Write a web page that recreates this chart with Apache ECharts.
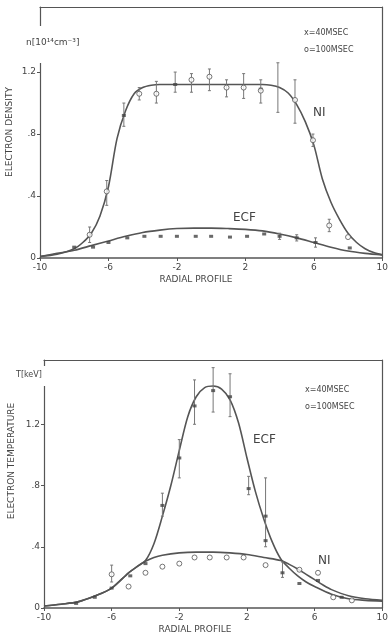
<!DOCTYPE html>
<html><head><meta charset="utf-8">
<script src="https://cdn.jsdelivr.net/npm/echarts@6/dist/echarts.min.js"></script>
<style>html,body{margin:0;padding:0;background:#fff}#c{width:391px;height:638px}</style>
</head><body><div id="c"></div>
<script>
// ---- tick values / labels ----
const xTickValues = [-10, -6, -2, 2, 6, 10];
const xTickLabels = ['-10', '-6', '-2', '2', '6', '10'];
const yTickValues = [0, 0.4, 0.8, 1.2];
const yTickLabels = ['0', '.4', '.8', '1.2'];

// ---- top panel: electron density ----
const densNIcurve = [[-10,0.01],[-9,0.025],[-8,0.06],[-7.5,0.10],[-7,0.16],[-6.5,0.27],[-6,0.46],[-5.5,0.77],[-5,0.95],[-4.5,1.06],[-4,1.10],[-3.5,1.115],[-3,1.12],[-2,1.12],[0,1.12],[2,1.12],[3,1.12],[3.5,1.115],[4,1.10],[4.5,1.065],[5,0.99],[5.5,0.88],[6,0.73],[6.5,0.51],[7,0.36],[7.5,0.25],[8,0.16],[8.5,0.10],[9,0.06],[9.5,0.035],[10,0.02]];
const densECFcurve = [[-10,0.01],[-9,0.03],[-8,0.05],[-7,0.08],[-6,0.11],[-5,0.14],[-4,0.165],[-3,0.18],[-2,0.19],[-1,0.193],[0,0.193],[1,0.19],[2,0.185],[3,0.175],[4,0.155],[5,0.13],[6,0.10],[7,0.07],[8,0.045],[9,0.03],[10,0.02]];
const dens100ms = [[-7.1,0.15],[-6.1,0.43],[-4.2,1.06],[-3.2,1.06],[-1.15,1.15],[-0.1,1.17],[0.9,1.10],[1.9,1.10],[2.9,1.08],[4.9,1.02],[5.95,0.76],[6.9,0.21],[8.0,0.135]];
const dens40ms = [[-8,0.07],[-6.9,0.07],[-6,0.10],[-5.1,0.92],[-4.9,0.13],[-3.9,0.14],[-2.95,0.14],[-2.1,1.12],[-2,0.14],[-0.9,0.14],[0,0.14],[1.1,0.135],[2.1,0.14],[2.9,1.09],[3.1,0.155],[4.0,0.14],[5.0,0.13],[6.1,0.10],[8.1,0.065]];
const densErr = [[-7.1,0.10,0.20],[-6.1,0.34,0.50],[-5.1,0.85,1.0],[-4.2,1.02,1.10],[-3.2,1.0,1.14],[-2.1,1.07,1.2],[-1.15,1.07,1.19],[-0.1,1.08,1.22],[0.9,1.04,1.15],[1.9,1.03,1.19],[2.9,1.0,1.15],[3.9,0.94,1.26],[4.9,0.87,1.15],[5.95,0.72,0.80],[6.9,0.17,0.25],[4.0,0.12,0.16],[5.0,0.11,0.15],[6.1,0.07,0.13]];

// ---- bottom panel: electron temperature ----
const tempECFcurve = [[-10,0.013],[-9,0.025],[-8,0.04],[-7,0.078],[-6,0.13],[-5,0.23],[-4.5,0.27],[-4,0.31],[-3.5,0.42],[-3,0.6],[-2.5,0.8],[-2,1.03],[-1.5,1.25],[-1,1.38],[-0.5,1.44],[0,1.45],[0.5,1.43],[1,1.36],[1.5,1.21],[2,0.98],[2.5,0.76],[3,0.58],[3.5,0.43],[4,0.32],[4.5,0.26],[5,0.21],[5.5,0.17],[6,0.14],[7,0.09],[8,0.06],[9,0.05],[10,0.045]];
const tempNIcurve = [[-10,0.013],[-9,0.025],[-8,0.04],[-7,0.078],[-6,0.13],[-5,0.23],[-4.5,0.27],[-4,0.305],[-3.5,0.33],[-3,0.345],[-2,0.36],[-1,0.365],[0,0.365],[1,0.36],[2,0.35],[3,0.33],[4,0.31],[4.5,0.285],[5,0.255],[5.5,0.22],[6,0.185],[6.5,0.15],[7,0.12],[8,0.08],[9,0.06],[10,0.05]];
const temp40ms = [[-8.1,0.03],[-7,0.07],[-6,0.13],[-4.9,0.21],[-4,0.29],[-3,0.67],[-2,0.98],[-1.1,1.32],[0,1.42],[1,1.38],[2.1,0.78],[3.1,0.6],[3.1,0.44],[4.1,0.23],[5.1,0.16],[6.2,0.18],[7.6,0.07]];
const temp100ms = [[-6,0.22],[-5,0.14],[-4,0.23],[-3,0.27],[-2,0.29],[-1.1,0.33],[-0.2,0.33],[0.8,0.33],[1.8,0.33],[3.1,0.28],[5.1,0.25],[6.2,0.23],[7.1,0.07],[8.2,0.05]];
const tempErr = [[-3,0.6,0.75],[-2,0.85,1.1],[-1.1,1.2,1.49],[0,1.28,1.57],[1,1.25,1.53],[2.1,0.74,0.86],[3.1,0.4,0.85],[4.1,0.2,0.3],[-6,0.17,0.28]];

const INK = '#555';
const TXT = '#444';
const FONT = 'DejaVu Sans';

function labelFmt(v) {
  const i = yTickValues.findIndex(t => Math.abs(t - v) < 1e-6);
  return i >= 0 ? yTickLabels[i] : '';
}
function xFmt(v) {
  const i = xTickValues.findIndex(t => Math.abs(t - v) < 1e-6);
  return i >= 0 ? xTickLabels[i] : '';
}

function mainX(gi) {
  return { type:'value', gridIndex:gi, min:-10, max:10, position:'bottom',
    axisLine:{onZero:false, lineStyle:{color:INK,width:1.6}},
    axisTick:{customValues:xTickValues, length:3, lineStyle:{color:INK}},
    axisLabel:{customValues:xTickValues, formatter:xFmt, color:TXT, fontSize:9, fontFamily:FONT, margin:5},
    splitLine:{show:false} };
}
function frameX(gi) {
  return { type:'value', gridIndex:gi, min:-10, max:10, position:'top',
    axisLine:{onZero:false, lineStyle:{color:INK,width:1.2}}, axisTick:{show:false}, axisLabel:{show:false}, splitLine:{show:false} };
}
function mainY(gi) {
  return { type:'value', gridIndex:gi, min:0, max:1.62, position:'left',
    axisLine:{onZero:false, lineStyle:{color:INK,width:1.2}},
    axisTick:{customValues:yTickValues, length:3, inside:false, lineStyle:{color:INK}},
    axisLabel:{customValues:yTickValues, formatter:labelFmt, color:TXT, fontSize:9, fontFamily:FONT, margin:4},
    splitLine:{show:false} };
}
function frameY(gi) {
  return { type:'value', gridIndex:gi, min:0, max:1.62, position:'right',
    axisLine:{onZero:false, lineStyle:{color:INK,width:1.2}}, axisTick:{show:false}, axisLabel:{show:false}, splitLine:{show:false} };
}

function curve(data, xi, yi) {
  return { type:'line', xAxisIndex:xi, yAxisIndex:yi, data, showSymbol:false, smooth:0.3,
    lineStyle:{color:INK, width:1.6}, z:2, silent:true };
}
function circles(data, xi, yi) {
  return { type:'scatter', xAxisIndex:xi, yAxisIndex:yi, data, symbol:'circle', symbolSize:5,
    itemStyle:{color:'#fff', borderColor:INK, borderWidth:1}, z:5 };
}
function crosses(data, xi, yi) {
  return { type:'scatter', xAxisIndex:xi, yAxisIndex:yi, data, symbol:'rect', symbolSize:[4,3],
    itemStyle:{color:'#444'}, z:4 };
}
function errBars(data, xi, yi) {
  return { type:'custom', xAxisIndex:xi, yAxisIndex:yi, data, z:3,
    encode:{x:0, y:[1,2]},
    renderItem(params, api) {
      const x = api.value(0), lo = api.value(1), hi = api.value(2);
      const a = api.coord([x, lo]), b = api.coord([x, hi]);
      const st = {stroke:'#777', lineWidth:1};
      return { type:'group', children:[
        {type:'line', shape:{x1:a[0],y1:a[1],x2:b[0],y2:b[1]}, style:st},
        {type:'line', shape:{x1:a[0]-1.5,y1:a[1],x2:a[0]+1.5,y2:a[1]}, style:st},
        {type:'line', shape:{x1:b[0]-1.5,y1:b[1],x2:b[0]+1.5,y2:b[1]}, style:st}
      ]};
    } };
}

function txt(x, y, text, size, extra, rot) {
  const el = { type:'text', x, y, z:100,
    style:Object.assign({ text, fill:TXT, font: size + 'px "' + FONT + '"', textAlign:'left', textVerticalAlign:'middle' }, extra || {}) };
  if (rot) el.rotation = rot;
  return el;
}

const chart = echarts.init(document.getElementById('c'), null, {renderer:'canvas'});
chart.setOption({
  animation:false,
  backgroundColor:'#fff',
  grid:[
    {left:40, right:5, top:7, bottom:380},
    {left:44, right:3, top:360, bottom:30}
  ],
  xAxis:[ mainX(0), frameX(0), mainX(1), frameX(1) ],
  yAxis:[ mainY(0), frameY(0), mainY(1), frameY(1) ],
  series:[
    curve(densNIcurve, 0, 0),
    curve(densECFcurve, 0, 0),
    errBars(densErr, 0, 0),
    circles(dens100ms, 0, 0),
    crosses(dens40ms, 0, 0),
    curve(tempECFcurve, 2, 2),
    curve(tempNIcurve, 2, 2),
    errBars(tempErr, 2, 2),
    circles(temp100ms, 2, 2),
    crosses(temp40ms, 2, 2)
  ],
  graphic:[
    {type:'rect', shape:{x:33, y:26, width:12, height:37}, style:{fill:'#fff'}, z:90},
    {type:'rect', shape:{x:37, y:366, width:12, height:20}, style:{fill:'#fff'}, z:90},
    txt(26, 43, 'n[10¹⁴cm⁻³]', 9),
    txt(16, 375, 'T[keV]', 8),
    txt(10, 132, 'ELECTRON DENSITY', 9, {textAlign:'center'}, Math.PI / 2),
    txt(12, 461, 'ELECTRON TEMPERATURE', 9, {textAlign:'center'}, Math.PI / 2),
    txt(196, 280, 'RADIAL PROFILE', 9, {textAlign:'center'}),
    txt(195, 630, 'RADIAL PROFILE', 9, {textAlign:'center'}),
    txt(304, 33, 'x=40MSEC', 8),
    txt(304, 50, 'o=100MSEC', 8),
    txt(305, 390, 'x=40MSEC', 8),
    txt(305, 407, 'o=100MSEC', 8),
    txt(313, 113, 'NI', 12),
    txt(233, 218, 'ECF', 12),
    txt(253, 440, 'ECF', 12),
    txt(318, 561, 'NI', 12)
  ]
});
</script>
</body></html>
